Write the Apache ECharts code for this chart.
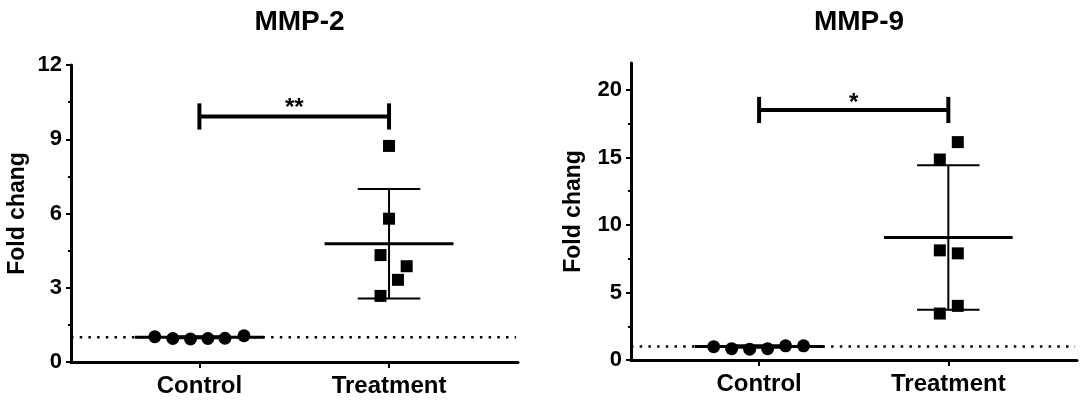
<!DOCTYPE html>
<html>
<head>
<meta charset="utf-8">
<title>MMP-2 / MMP-9</title>
<script src="https://cdn.jsdelivr.net/npm/echarts@6/dist/echarts.min.js"></script>
<style>
html, body { margin: 0; padding: 0; background: #fff; }
#chart { width: 1084px; height: 407px; }
</style>
</head>
<body>
<div id="chart"></div>
<script>
var categories = ['Control', 'Treatment'];
var titles = ['MMP-2', 'MMP-9'];

// MMP-2: values, x offsets are the scatter spread around each group
var mmp2ControlY = [1.02, 0.95, 0.93, 0.95, 0.96, 1.06];
var mmp2ControlX = [-0.235, -0.14, -0.047, 0.045, 0.135, 0.235];
var mmp2TreatY = [8.73, 5.79, 4.32, 3.87, 3.32, 2.67];
var mmp2TreatX = [0, 0, -0.045, 0.093, 0.047, -0.045];
var mmp2Mean = [1.0, 4.78];
var mmp2Sd = [0.04, 2.21];
var mmp2Ticks = [0, 3, 6, 9, 12];
var mmp2Minor = [1.5, 4.5, 7.5, 10.5];
var mmp2Max = 12;
var mmp2Bracket = 9.92;
var mmp2Stars = '**';

// MMP-9
var mmp9ControlY = [0.99, 0.84, 0.80, 0.84, 1.05, 1.05];
var mmp9ControlX = [-0.24, -0.145, -0.05, 0.045, 0.14, 0.235];
var mmp9TreatY = [16.14, 14.85, 8.12, 7.90, 4.01, 3.44];
var mmp9TreatX = [0.05, -0.045, -0.045, 0.05, 0.05, -0.045];
var mmp9Mean = [1.0, 9.08];
var mmp9Sd = [0.1, 5.35];
var mmp9Ticks = [0, 5, 10, 15, 20];
var mmp9Minor = [2.5, 7.5, 12.5, 17.5];
var mmp9Max = 22;
var mmp9Bracket = 18.52;
var mmp9Stars = '*';

var refLine = 1;
var font = 'Liberation Sans, Arial, sans-serif';

var panels = [
    { grid: { left: 71, right: 566, top: 65, bottom: 45 }, nameGap: 42, capH: 0.53, starY: 10.26,
      cy: mmp2ControlY, cx: mmp2ControlX, ty: mmp2TreatY, tx: mmp2TreatX, mean: mmp2Mean, sd: mmp2Sd,
      ticks: mmp2Ticks, minor: mmp2Minor, max: mmp2Max, bracket: mmp2Bracket, stars: mmp2Stars },
    { grid: { left: 631, right: 7, top: 63, bottom: 47 }, nameGap: 46, capH: 0.97, starY: 19.04,
      cy: mmp9ControlY, cx: mmp9ControlX, ty: mmp9TreatY, tx: mmp9TreatX, mean: mmp9Mean, sd: mmp9Sd,
      ticks: mmp9Ticks, minor: mmp9Minor, max: mmp9Max, bracket: mmp9Bracket, stars: mmp9Stars }
];

var option = {
    animation: false,
    backgroundColor: '#fff',
    title: [],
    grid: [],
    xAxis: [],
    yAxis: [],
    series: []
};

function seg(p, data, width, dash) {
    option.series.push({
        type: 'line',
        xAxisIndex: p,
        yAxisIndex: p * 2,
        data: data,
        symbol: 'none',
        silent: true,
        z: 2,
        lineStyle: { color: '#000', width: width, type: dash || 'solid', cap: 'butt' }
    });
}

panels.forEach(function (c, p) {
    var g = c.grid;
    option.grid.push(g);
    option.title.push({
        text: titles[p],
        left: g.left + (1084 - g.left - g.right) / 2,
        textAlign: 'center',
        top: 3,
        textStyle: { fontFamily: font, fontSize: 28, fontWeight: 'bold', color: '#000' }
    });
    option.xAxis.push({
        type: 'value', gridIndex: p, min: 0.323, max: 2.68,
        splitLine: { show: false },
        axisLine: { lineStyle: { color: '#000', width: 3 } },
        axisTick: { customValues: [1, 2], length: 6, lineStyle: { color: '#000', width: 2 } },
        axisLabel: {
            customValues: [1, 2], margin: 12,
            formatter: function (v) { return categories[Math.round(v) - 1]; },
            fontFamily: font, fontSize: 24, fontWeight: 'bold', color: '#000'
        }
    });
    option.yAxis.push({
        type: 'value', gridIndex: p, min: 0, max: c.max,
        name: 'Fold chang', nameLocation: 'middle', nameGap: c.nameGap,
        nameTextStyle: { fontFamily: font, fontSize: 23, fontWeight: 'bold', color: '#000' },
        splitLine: { show: false },
        axisLine: { lineStyle: { color: '#000', width: 3 } },
        axisTick: { customValues: c.ticks, length: 5, lineStyle: { color: '#000', width: 2 } },
        axisLabel: {
            customValues: c.ticks, margin: 9,
            fontFamily: font, fontSize: 22, fontWeight: 'bold', color: '#000'
        }
    });
    // second axis only for the short minor ticks
    option.yAxis.push({
        type: 'value', gridIndex: p, min: 0, max: c.max, position: 'left',
        splitLine: { show: false },
        axisLine: { show: false },
        axisTick: { customValues: c.minor, length: 3, lineStyle: { color: '#000', width: 2 } },
        axisLabel: { show: false }
    });

    // dotted reference line at fold change 1
    seg(p, [[0.323, refLine], [2.67, refLine]], 2.5, [2.5, 6.2]);

    // mean and SD bars
    for (var k = 0; k < 2; k++) {
        var x = k + 1, m = c.mean[k], s = c.sd[k];
        seg(p, [[x - 0.34, m], [x + 0.34, m]], 3);
        seg(p, [[x, m - s], [x, m + s]], 2);
        seg(p, [[x - 0.165, m + s], [x + 0.165, m + s]], 2);
        seg(p, [[x - 0.165, m - s], [x + 0.165, m - s]], 2);
    }

    // significance bracket
    seg(p, [[1, c.bracket], [2, c.bracket]], 4);
    seg(p, [[1, c.bracket - c.capH], [1, c.bracket + c.capH]], 4);
    seg(p, [[2, c.bracket - c.capH], [2, c.bracket + c.capH]], 4);

    option.series.push({
        type: 'scatter', xAxisIndex: p, yAxisIndex: p * 2, symbolSize: 0, silent: true,
        itemStyle: { opacity: 1 },
        data: [[1.5, c.starY]],
        label: {
            show: true, position: 'inside', formatter: c.stars,
            fontFamily: font, fontSize: 24, fontWeight: 'bold', color: '#000', opacity: 1
        }
    });

    option.series.push({
        type: 'scatter', xAxisIndex: p, yAxisIndex: p * 2, symbol: 'circle', symbolSize: 13,
        itemStyle: { color: '#000', opacity: 1 }, z: 3, silent: true,
        data: c.cy.map(function (v, i) { return [1 + c.cx[i], v]; })
    });
    option.series.push({
        type: 'scatter', xAxisIndex: p, yAxisIndex: p * 2, symbol: 'rect', symbolSize: 12,
        itemStyle: { color: '#000', opacity: 1 }, z: 3, silent: true,
        data: c.ty.map(function (v, i) { return [2 + c.tx[i], v]; })
    });
});

var myChart = echarts.init(document.getElementById('chart'));
myChart.setOption(option);
</script>
</body>
</html>
